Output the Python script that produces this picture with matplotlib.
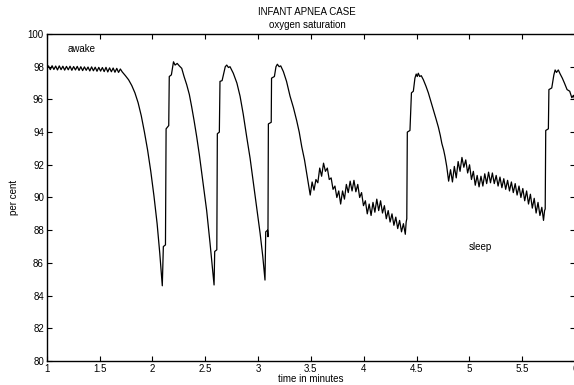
import numpy as np
import matplotlib
matplotlib.use("Agg")
import matplotlib.pyplot as plt

plt.rcParams['font.family'] = ['Liberation Sans', 'DejaVu Sans']

# awake, breathing ripple
t_awake = [1.000, 1.017, 1.034, 1.051, 1.068, 1.085, 1.102, 1.119, 1.136, 1.153,
           1.170, 1.187, 1.204, 1.221, 1.238, 1.255, 1.272, 1.289, 1.306, 1.323,
           1.340, 1.357, 1.374, 1.391, 1.408, 1.425, 1.442, 1.459, 1.476, 1.493,
           1.510, 1.527, 1.544, 1.561, 1.578, 1.595, 1.612, 1.629, 1.646, 1.663,
           1.680, 1.697]
s_awake = [97.85, 98.05, 97.82, 98.06, 97.83, 98.04, 97.80, 98.05, 97.82, 98.03,
           97.79, 98.02, 97.81, 98.03, 97.78, 98.01, 97.80, 98.02, 97.77, 98.00,
           97.76, 97.99, 97.78, 97.98, 97.74, 97.99, 97.75, 97.97, 97.72, 97.96,
           97.73, 97.95, 97.70, 97.96, 97.68, 97.93, 97.69, 97.92, 97.66, 97.90,
           97.65, 97.86]

# three apnea dips
t_dips = [1.715, 1.745, 1.775, 1.805, 1.835, 1.865, 1.895, 1.925, 1.955, 1.985,
          2.015, 2.045, 2.070, 2.094,
          2.104, 2.124, 2.130, 2.155, 2.160, 2.180, 2.200, 2.215, 2.235, 2.255,
          2.278, 2.300, 2.325, 2.350, 2.372, 2.395, 2.420, 2.445, 2.467, 2.490,
          2.514, 2.546, 2.584,
          2.590, 2.610, 2.615, 2.634, 2.640, 2.660, 2.690, 2.704, 2.720, 2.735,
          2.766, 2.800, 2.830, 2.860, 2.893, 2.925, 2.956, 2.990, 3.020, 3.045,
          3.066,
          3.073, 3.090, 3.094, 3.098, 3.125, 3.128, 3.155, 3.170, 3.183, 3.200,
          3.215, 3.240, 3.270, 3.303, 3.335, 3.366, 3.390, 3.414, 3.440, 3.460,
          3.476]
s_dips = [97.68, 97.45, 97.20, 96.85, 96.40, 95.80, 95.00, 94.00, 92.90, 91.60,
          90.10, 88.40, 86.60, 84.60,
          87.00, 87.10, 94.20, 94.40, 97.40, 97.50, 98.30, 98.10, 98.20, 98.05,
          97.90, 97.40, 96.90, 96.30, 95.55, 94.70, 93.70, 92.60, 91.50, 90.40,
          89.20, 87.20, 84.65,
          86.70, 86.80, 93.90, 94.00, 97.10, 97.15, 98.00, 98.10, 97.95, 98.00,
          97.60, 97.00, 96.20, 95.10, 93.70, 92.40, 90.90, 89.30, 87.80, 86.40,
          84.95,
          87.90, 88.00, 87.60, 94.50, 94.60, 97.30, 97.40, 98.00, 98.15, 98.00,
          98.05, 97.70, 97.10, 96.20, 95.50, 94.70, 94.00, 93.10, 92.30, 91.50,
          90.90]

# periodic breathing, first stretch
t_pb1 = [3.494, 3.512, 3.530, 3.548, 3.566, 3.584, 3.602, 3.620, 3.638, 3.656,
         3.674, 3.692, 3.710, 3.728, 3.746, 3.764, 3.782, 3.800, 3.818, 3.836,
         3.854, 3.872, 3.890, 3.908, 3.926, 3.944, 3.962, 3.980, 3.998, 4.016,
         4.034, 4.052, 4.070, 4.088, 4.106, 4.124, 4.142, 4.160, 4.178, 4.196,
         4.214, 4.232, 4.250, 4.268, 4.286, 4.304, 4.322, 4.340, 4.358, 4.376,
         4.394]
s_pb1 = [90.15, 90.95, 90.45, 91.10, 90.90, 91.80, 91.30, 92.10, 91.60, 91.80,
         91.10, 91.20, 90.50, 90.70, 90.00, 90.40, 89.60, 90.40, 89.90, 90.80,
         90.30, 91.00, 90.40, 91.05, 90.35, 90.80, 90.00, 90.30, 89.50, 89.80,
         89.00, 89.60, 88.90, 89.70, 89.10, 89.90, 89.20, 89.80, 89.05, 89.50,
         88.70, 89.20, 88.50, 89.00, 88.30, 88.80, 88.10, 88.60, 87.90, 88.40,
         87.75]

# recovery after it
t_rec1 = [4.402, 4.408, 4.413, 4.438, 4.452, 4.470, 4.485, 4.497, 4.507, 4.517,
          4.530, 4.545, 4.565, 4.590, 4.612, 4.635, 4.660, 4.685, 4.707, 4.725,
          4.740, 4.757, 4.770, 4.786]
s_rec1 = [88.50, 88.70, 94.00, 94.10, 96.40, 96.50, 97.30, 97.55, 97.40, 97.60,
          97.40, 97.45, 97.20, 96.80, 96.40, 95.90, 95.35, 94.80, 94.30, 93.80,
          93.30, 92.90, 92.50, 91.90]

# periodic breathing, second stretch
t_pb2 = [4.804, 4.822, 4.840, 4.858, 4.876, 4.894, 4.912, 4.930, 4.948, 4.966,
         4.984, 5.002, 5.020, 5.038, 5.056, 5.074, 5.092, 5.110, 5.128, 5.146,
         5.164, 5.182, 5.200, 5.218, 5.236, 5.254, 5.272, 5.290, 5.308, 5.326,
         5.344, 5.362, 5.380, 5.398, 5.416, 5.434, 5.452, 5.470, 5.488, 5.506,
         5.524, 5.542, 5.560, 5.578, 5.596, 5.614, 5.632, 5.650, 5.668, 5.686,
         5.702]
s_pb2 = [91.00, 91.70, 90.95, 91.90, 91.20, 92.20, 91.60, 92.45, 91.85, 92.30,
         91.50, 92.00, 91.10, 91.60, 90.75, 91.35, 90.65, 91.30, 90.70, 91.45,
         90.85, 91.55, 90.90, 91.50, 90.85, 91.35, 90.70, 91.25, 90.60, 91.15,
         90.50, 91.05, 90.40, 90.95, 90.30, 90.85, 90.15, 90.70, 90.00, 90.55,
         89.80, 90.40, 89.60, 90.20, 89.35, 89.95, 89.05, 89.70, 88.90, 89.40,
         88.60]

# last recovery
t_rec2 = [5.712, 5.718, 5.723, 5.748, 5.753, 5.780, 5.800, 5.812, 5.825, 5.842,
          5.860, 5.880, 5.900, 5.925, 5.950, 5.970, 5.985, 6.000]
s_rec2 = [89.20, 89.30, 94.10, 94.20, 96.60, 96.70, 97.50, 97.80, 97.65, 97.80,
          97.55, 97.30, 97.00, 96.60, 96.50, 96.10, 96.25, 95.95]

xticks = [1, 1.5, 2, 2.5, 3, 3.5, 4, 4.5, 5, 5.5, 6]
xticklabels = ['1', '1.5', '2', '2.5', '3', '3.5', '4', '4.5', '5', '5.5', '6']
yticks = [80, 82, 84, 86, 88, 90, 92, 94, 96, 98, 100]

t = t_awake + t_dips + t_pb1 + t_rec1 + t_pb2 + t_rec2
s = s_awake + s_dips + s_pb1 + s_rec1 + s_pb2 + s_rec2

W, H = 574, 385
fig = plt.figure(figsize=(W / 100, H / 100), dpi=100)
ax = fig.add_axes([46.7 / W, (H - 361) / H, (575 - 46.7) / W, (361 - 34) / H])

ax.plot(t, s, color='black', lw=0.9)
ax.set_xlim(1, 6)
ax.set_ylim(80, 100)
ax.set_xticks(xticks)
ax.set_xticklabels(xticklabels)
ax.set_yticks(yticks)
ax.tick_params(direction='in', length=3.5, width=0.8, labelsize=7,
               top=True, right=True, pad=2)
for sp in ax.spines.values():
    sp.set_linewidth(1.0)

ax.set_xlabel('time in minutes', fontsize=7, labelpad=0)
ax.set_ylabel('per cent', fontsize=7, labelpad=6)

ax.text(1.20, 99.08, 'awake', fontsize=7, va='center', ha='left')
ax.text(4.997, 86.95, 'sleep', fontsize=7, va='center', ha='left')

fig.text(0.535, 1 - 12 / H, 'INFANT APNEA CASE', fontsize=7, ha='center', va='center')
fig.text(0.535, 1 - 25 / H, 'oxygen saturation', fontsize=7, ha='center', va='center')

fig.savefig('out.png', dpi=100)
